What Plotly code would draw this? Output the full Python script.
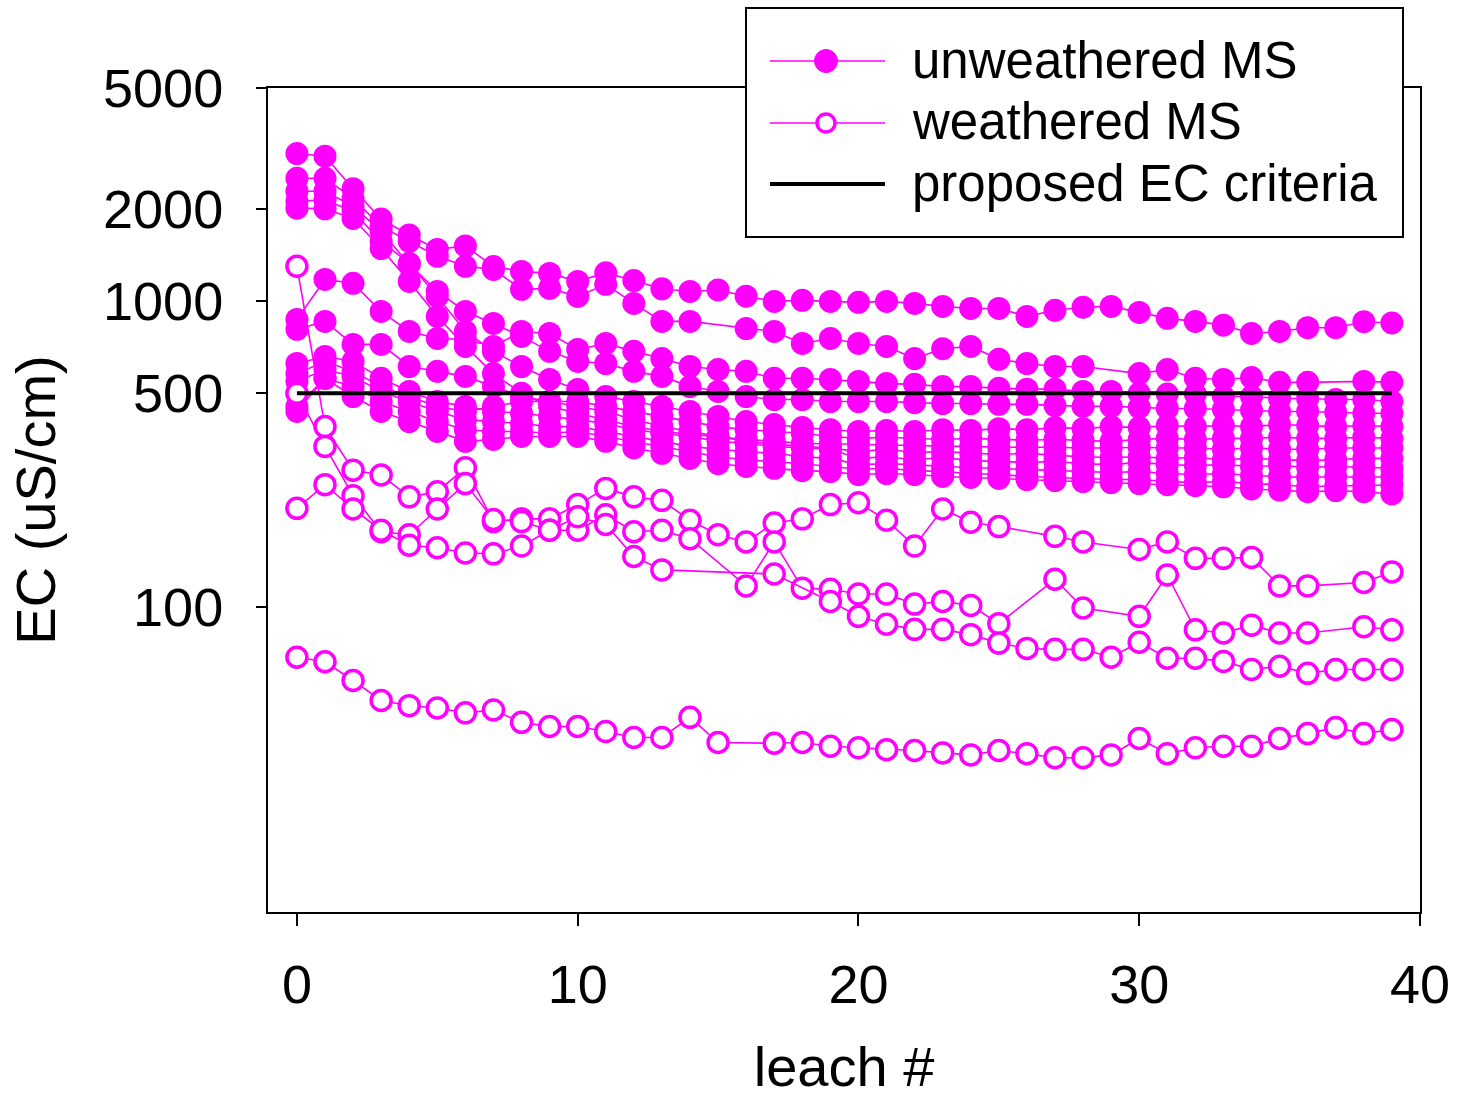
import plotly.graph_objects as go

leach = list(range(40))
ec_criteria = 500

# unweathered MS (filled markers)
uw_1 = [3050, 2990, 2340, 1860, 1650, 1480, 1520, 1300, 1254, 1235, 1163, 1240, 1170, 1100, 1078, 1090, 1040, 1000, 1008, 1000,
        993, 1000, 985, 963, 948, 948, 893, 935, 957, 963, 920, 880, 860, 836, 785, 797, 820, 820, 858, 850]
uw_2 = [2530, 2530, 2175, 1762, 1573, 1405, 1303, 1273, 1095, 1103, 1038, 1137, 985, 860, 860, None, 815, 797, 728, 756,
        728, 712, 650, 700, 712, 646, 626, 612, 612, None, 580, 598, 560, 555, 563, 543, 543, None, 547, 543]
uw_3 = [2295, 2295, 2050, 1696, 1323, 1078, 927, 847, 768, 686, 636, 626, 590, 568, 526, 507, 488, 477, 477, 470,
        470, 470, 466, 463, 463, 460, 460, 456, 453, 453, 450, 446, 446, 443, 440, 436, 436, 433, 430, 430]
uw_4 = [2128, 2150, 1972, 1573, 1333, 1038, 797, 686, 612, 555, 515, 488, 470, 453, 436, 420, 404, 395, 386, 380,
        375, 378, 375, 380, 378, 383, 380, 386, 383, 389, 386, 392, 389, 392, 389, 395, 392, 389, 392, 389]
uw_5 = [2020, 2010, 1870, 1490, 1163, 893, 712, 580, 500, 453, 430, 410, 389, 375, 367, 359, 353, 348, 343, 341,
        341, 338, 338, 335, 335, 333, 333, 333, 331, 331, 333, 331, 331, 328, 331, 328, 328, 331, 331, 331]
uw_6 = [873, 1180, 1146, 927, 797, 756, 750, 712, 797, 785, 696, 728, 686, 650, 612, 598, 590, 560, 560, 555,
        547, 538, 535, 526, 526, 519, 516, 516, 507, 507, 500, 497, 497, 488, 488, 481, 481, 477, 477, 470]
uw_7 = [810, 860, 723, 723, 612, 590, 568, 526, 488, 470, 453, 436, 410, 389, 375, 361, 348, 341, 335, 331,
        322, 328, 320, 322, 318, 315, 318, 313, 310, 308, 310, 306, 308, 303, 306, 303, 301, 303, 306, 306]
uw_8 = [626, 660, 636, 560, 507, 470, 453, 436, 430, 420, 410, 398, 380, 370, 361, 348, 343, 335, 331, 328,
        306, 310, 303, 308, 301, 299, 297, 299, 294, 292, 297, 292, 290, 292, 288, 290, 286, 288, 286, 284]
uw_9 = [547, 598, 568, 507, 470, 436, 410, 404, 398, 389, 389, 375, 361, 348, 335, 328, 322, 318, 310, 306,
        292, 294, 292, 288, 286, 284, 281, 279, 277, 275, 277, 273, 271, 273, 269, 267, 265, 267, 265, 267]
uw_10 = [453, 560, 526, 470, 436, 404, 380, 375, 375, 370, 375, 361, 348, 335, 322, 310, 303, 299, 294, 288,
         282, 284, 279, 277, 273, 271, 267, 265, 263, 261, 261, 257, 255, 257, 253, 251, 247, 249, 249, 251]
uw_11 = [580, 636, 590, 526, 488, 453, 436, 453, 470, 470, 470, 453, 436, 420, 404, 389, 380, 375, 370, 361,
         356, 359, 356, 353, 356, 353, 351, 353, 351, 348, 353, 356, 353, 356, 356, 359, 356, 356, 359, 356]
uw_12 = [436, 560, 488, 436, 404, 375, 348, 353, 361, 361, 361, 348, 331, 318, 306, 294, 288, 284, 279, 277,
         271, 273, 271, 267, 265, 263, 261, 259, 257, 255, 253, 251, 249, 247, 243, 241, 238, 240, 238, 234]

# weathered MS (open markers)
w_1 = [1303, 389, 280, 270, 229, 238, 285, 190, 194, 194, 216, 244, 229, 223, 192, 172, 163, 188, 194, 216,
       219, 192, 158, 209, 189, 183, None, 170, 163, None, 154, 163, 144, 144, 145, 117, 117, None, 120, 130]
w_2 = [500, 335, 231, 176, 172, 209, 253, 193, 190, 178, 178, 200, 176, 178, 167, None, 117, 163, 115, 114,
       110, 110, 102, 104, 101, 88, None, 123, 99, None, 93, 127, 84, 82, 87, 82, 82, None, 86, 84]
w_3 = [210, 251, 209, 178, 159, 156, 150, 149, 158, 178, 197, 186, 146, 132, None, None, None, 128, None, 104,
       93, 87.6, 84.3, 84.3, 81, 76, 73, 72.5, 72.5, 68.3, 76.5, 67.8, 67.8, 66.2, 62.3, 63.8, 60.5, 62.3, 62.3, 62.3]
w_4 = [68.3, 66, 57.3, 49.3, 47.4, 46.6, 44.9, 45.9, 41.8, 40.5, 40.5, 39, 37.3, 37.3, 43.4, 35.9, None, 35.7, 35.9, 34.9,
       34.5, 34, 33.8, 33.2, 32.7, 33.8, 33, 32, 32, 32.7, 37, 33, 34.5, 34.9, 34.9, 37, 38.4, 40.2, 38.4, 39.6]

x_ticks = [0, 10, 20, 30, 40]
y_ticks = [100, 500, 1000, 2000, 5000]
y_ticktext = ["100", "500", "1000", "2000", "5000"]

MAG = "#FF00FF"
FONT = "Arial, Liberation Sans, sans-serif"

fig = go.Figure()
for s in [uw_1, uw_2, uw_3, uw_4, uw_5, uw_6, uw_7, uw_8, uw_9, uw_10, uw_11, uw_12]:
    fig.add_trace(go.Scatter(x=leach, y=s, mode="lines+markers", connectgaps=True,
                             line=dict(color=MAG, width=1.6),
                             marker=dict(symbol="circle", size=23, color=MAG),
                             name="unweathered MS", showlegend=False))
for s in [w_1, w_2, w_3, w_4]:
    fig.add_trace(go.Scatter(x=leach, y=s, mode="lines+markers", connectgaps=True,
                             line=dict(color=MAG, width=1.6),
                             marker=dict(symbol="circle", size=20, color="white",
                                         line=dict(color=MAG, width=3.5)),
                             name="weathered MS", showlegend=False))
fig.add_trace(go.Scatter(x=[leach[0], leach[-1]], y=[ec_criteria, ec_criteria], mode="lines",
                         line=dict(color="black", width=4), name="proposed EC criteria", showlegend=False))

# plot-area pixel -> paper helpers for legend box
L, R, T, B = 268, 1420, 88, 912
def px(x):
    return (x - L) / (R - L)
def py(y):
    return (B - y) / (B - T)

shapes = [
    dict(type="rect", xref="paper", yref="paper", x0=px(746), x1=px(1403), y0=py(237), y1=py(8),
         line=dict(color="black", width=2), fillcolor="white", layer="above"),
    dict(type="line", xref="paper", yref="paper", x0=px(770), x1=px(885), y0=py(61), y1=py(61),
         line=dict(color=MAG, width=1.6), layer="above"),
    dict(type="circle", xref="paper", yref="paper", xsizemode="pixel", ysizemode="pixel",
         xanchor=px(826), yanchor=py(61), x0=-11.5, x1=11.5, y0=-11.5, y1=11.5,
         line=dict(color=MAG, width=1), fillcolor=MAG, layer="above"),
    dict(type="line", xref="paper", yref="paper", x0=px(770), x1=px(885), y0=py(123), y1=py(123),
         line=dict(color=MAG, width=1.6), layer="above"),
    dict(type="circle", xref="paper", yref="paper", xsizemode="pixel", ysizemode="pixel",
         xanchor=px(826), yanchor=py(123), x0=-9, x1=9, y0=-9, y1=9,
         line=dict(color=MAG, width=3.5), fillcolor="white", layer="above"),
    dict(type="line", xref="paper", yref="paper", x0=px(770), x1=px(885), y0=py(184), y1=py(184),
         line=dict(color="black", width=4), layer="above"),
]
annotations = []
for txt, yy in [("unweathered MS", 60), ("weathered MS", 122), ("proposed EC criteria", 184)]:
    annotations.append(dict(text=txt, xref="paper", yref="paper", x=px(910), y=py(yy),
                            xanchor="left", yanchor="middle", showarrow=False,
                            font=dict(family=FONT, size=51, color="black")))

fig.update_layout(
    width=1462, height=1098, autosize=False,
    margin=dict(l=L, r=1462 - R, t=T, b=1098 - B, pad=0),
    paper_bgcolor="white", plot_bgcolor="white",
    font=dict(family=FONT, size=54, color="black"),
    shapes=shapes, annotations=annotations, showlegend=False,
)
fig.update_xaxes(range=[-1.03, 40.001], tickvals=x_ticks, ticks="outside", ticklen=12, tickwidth=2,
                 tickcolor="black", showline=True, linecolor="black", linewidth=2, mirror=True,
                 showgrid=False, zeroline=False, tickfont=dict(size=54), ticklabelstandoff=12,
                 automargin=False,
                 title=dict(text="leach #", font=dict(size=56), standoff=56))
fig.update_yaxes(type="log", range=[1, 3.69897], tickvals=y_ticks, ticktext=y_ticktext, ticks="outside",
                 ticklen=10, tickwidth=2, tickcolor="black", showline=True, linecolor="black", linewidth=2,
                 mirror=True, showgrid=False, zeroline=False, tickfont=dict(size=54), ticklabelstandoff=22,
                 automargin=False,
                 title=dict(text="EC (uS/cm)", font=dict(size=56), standoff=29))

fig.write_html("out.html")
